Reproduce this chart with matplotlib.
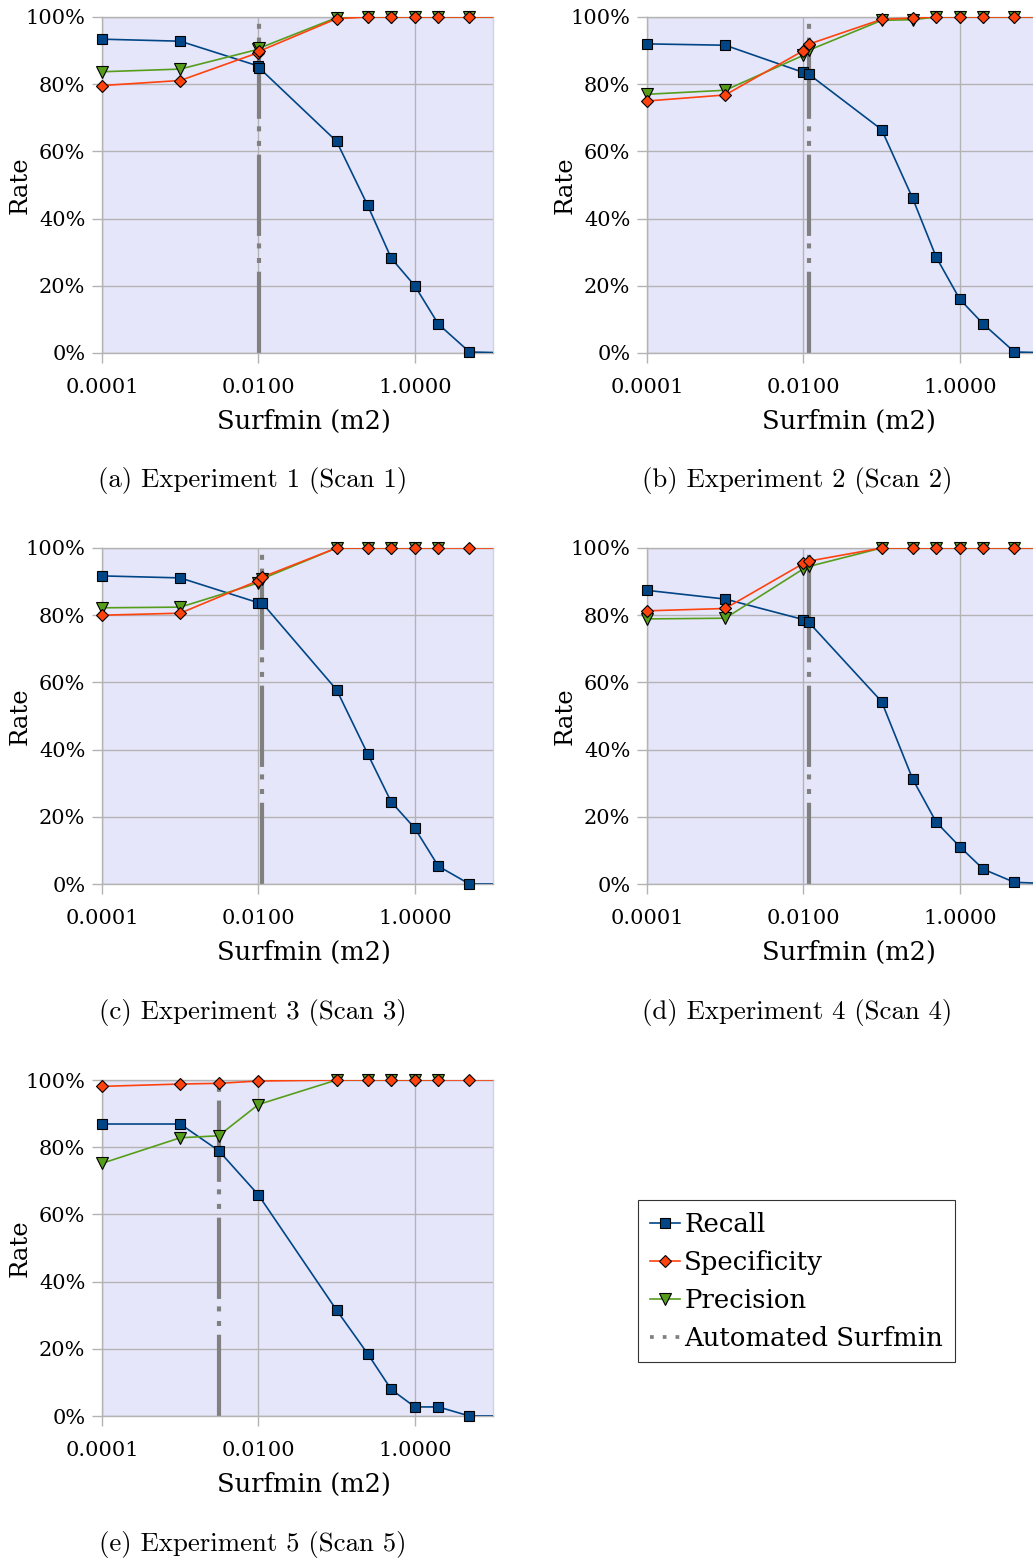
import numpy as np
import matplotlib
matplotlib.use("Agg")
import matplotlib.pyplot as plt
from matplotlib.lines import Line2D
from matplotlib.ticker import FixedLocator, FuncFormatter, NullLocator

nan = np.nan

# ---------------- data ----------------
x_a = [0.0001, 0.001, 0.01, 0.0102, 0.1, 0.25, 0.5, 1, 2, 5, 20]
recall_a = [93.4, 92.8, 85.4, 84.9, 63.0, 43.9, 28.2, 20.0, 8.6, 0.3, 0]
spec_a = [79.6, 81.1, 89.4, 89.8, 99.5, 100, 100, 100, 100, 100, 100]
prec_a = [83.7, 84.5, 90.4, 90.7, 99.8, 100, 100, 100, 100, 100, 100]
auto_a = 0.0101

x_b = [0.0001, 0.001, 0.01, 0.0117, 0.1, 0.25, 0.5, 1, 2, 5, 20]
recall_b = [92.0, 91.6, 83.5, 83.0, 66.5, 46.0, 28.5, 16.0, 8.6, 0.3, 0]
spec_b = [75.0, 76.8, 90.0, 91.9, 99.3, 99.7, 100, 100, 100, 100, 100]
prec_b = [77.0, 78.2, 88.6, 90.1, 99.0, 99.2, 100, 100, 100, 100, 100]
auto_b = 0.0117

x_c = [0.0001, 0.001, 0.01, 0.0111, 0.1, 0.25, 0.5, 1, 2, 5, 20]
recall_c = [91.7, 91.1, 83.7, 83.7, 57.8, 38.7, 24.4, 16.6, 5.3, 0, 0]
spec_c = [80.0, 80.6, 90.3, 91.3, 100, 100, 100, 100, 100, 100, 100]
prec_c = [82.2, 82.4, 89.6, 90.8, 100, 100, 100, 100, 100, nan, nan]
auto_c = 0.0111

x_d = [0.0001, 0.001, 0.01, 0.0117, 0.1, 0.25, 0.5, 1, 2, 5, 20]
recall_d = [87.4, 84.8, 78.7, 77.9, 54.3, 31.2, 18.4, 11.1, 4.4, 0.5, 0]
spec_d = [81.3, 82.0, 95.4, 96.1, 100, 100, 100, 100, 100, 100, 100]
prec_d = [78.9, 79.1, 93.8, 94.5, 100, 100, 100, 100, 100, 100, 100]
auto_d = 0.0117

x_e = [0.0001, 0.001, 0.0031, 0.01, 0.1, 0.25, 0.5, 1, 2, 5, 20]
recall_e = [86.9, 86.9, 79.0, 65.8, 31.5, 18.5, 7.9, 2.7, 2.7, 0, 0]
spec_e = [98.1, 98.8, 99.0, 99.7, 100, 100, 100, 100, 100, 100, 100]
prec_e = [75.2, 82.8, 83.4, 92.7, 100, 100, 100, 100, 100, nan, nan]
auto_e = 0.0031

panels = [
    ("(a) Experiment 1 (Scan 1)", x_a, recall_a, spec_a, prec_a, auto_a),
    ("(b) Experiment 2 (Scan 2)", x_b, recall_b, spec_b, prec_b, auto_b),
    ("(c) Experiment 3 (Scan 3)", x_c, recall_c, spec_c, prec_c, auto_c),
    ("(d) Experiment 4 (Scan 4)", x_d, recall_d, spec_d, prec_d, auto_d),
    ("(e) Experiment 5 (Scan 5)", x_e, recall_e, spec_e, prec_e, auto_e),
]

series_names = ["Recall", "Specificity", "Precision", "Automated Surfmin"]
xtick_vals = [0.0001, 0.01, 1.0]
ytick_vals = [0, 20, 40, 60, 80, 100]

# ---------------- style ----------------
C_RECALL = "#004586"
C_SPEC = "#ff420e"
C_PREC = "#579d1c"
C_AUTO = "#808080"
C_BG = "#e6e6fa"
C_GRID = "#b3b3b3"
FONT = "DejaVu Serif"

W, H = 1033, 1562
fig = plt.figure(figsize=(W / 100, H / 100), dpi=100)

lefts = [102, 647]
tops = [17, 548, 1080]
AW, AH = 391, 336
cap_y = [481, 1013, 1544]
cap_x = [253, 797]

XMIN, XMAX = 0.0001, 10


def px_axes(left, top):
    return [left / W, 1 - (top + AH) / H, AW / W, AH / H]


def draw_series(ax, x, y, color, marker, ms):
    x = np.asarray(x, float)
    y = np.asarray(y, float) / 100.0
    ax.plot(x, y, color=color, lw=1.2, zorder=3)
    inside = (x >= XMIN) & (x <= XMAX)
    ax.plot(x[inside], y[inside], ls="none", marker=marker, ms=ms,
            mfc=color, mec="black", mew=0.8, zorder=4, clip_on=False)


for i, (cap, x, rec, spec, prec, auto) in enumerate(panels):
    row, col = divmod(i, 2)
    ax = fig.add_axes(px_axes(lefts[col], tops[row]))
    ax.set_facecolor(C_BG)
    ax.set_xscale("log")
    ax.set_xlim(XMIN, XMAX)
    ax.set_ylim(0, 1)

    ax.xaxis.set_major_locator(FixedLocator(xtick_vals))
    ax.xaxis.set_minor_locator(NullLocator())
    ax.xaxis.set_major_formatter(FuncFormatter(lambda v, p: f"{v:.4f}"))
    ax.yaxis.set_major_locator(FixedLocator([v / 100 for v in ytick_vals]))
    ax.yaxis.set_major_formatter(FuncFormatter(lambda v, p: f"{v*100:.0f}%"))

    ax.grid(True, color=C_GRID, lw=1.0, zorder=0)
    ax.set_axisbelow(True)
    for s in ax.spines.values():
        s.set_color(C_GRID)
        s.set_linewidth(1.0)
    ax.spines["right"].set_color("#d0d0e8")
    ax.tick_params(axis="both", colors=C_GRID, length=7, width=1.0,
                   labelcolor="black", labelsize=15)
    ax.tick_params(axis="y", pad=5)
    ax.tick_params(axis="x", pad=11)
    for lab in ax.get_xticklabels() + ax.get_yticklabels():
        lab.set_fontfamily(FONT)

    ax.axvline(auto, ymin=0, ymax=0.985, color=C_AUTO, lw=3.0,
               ls=(0, (19.5, 2.1, 1.2, 2.3, 1.2, 1.8)), zorder=2)

    draw_series(ax, x, rec, C_RECALL, "s", 7.2)
    draw_series(ax, x, prec, C_PREC, "v", 8)
    draw_series(ax, x, spec, C_SPEC, "D", 6)

    ax.set_xlabel("Surfmin (m2)", fontsize=18.5, family=FONT, va="center")
    ax.xaxis.set_label_coords(0.517, -68 / AH)
    ax.set_ylabel("Rate", fontsize=17.5, family=FONT, va="center")
    ax.yaxis.set_label_coords(-82 / AW, 0.5)

    fig.text(cap_x[col] / W, 1 - cap_y[row] / H, cap, ha="center", va="center",
             fontsize=19.3, family="cmr10")

handles = [
    Line2D([], [], color=C_RECALL, lw=1.2, marker="s", ms=7.2, mfc=C_RECALL, mec="black", mew=0.8),
    Line2D([], [], color=C_SPEC, lw=1.2, marker="D", ms=6, mfc=C_SPEC, mec="black", mew=0.8),
    Line2D([], [], color=C_PREC, lw=1.2, marker="v", ms=8, mfc=C_PREC, mec="black", mew=0.8),
    Line2D([], [], color=C_AUTO, lw=2.7, ls=(0, (1.0, 2.4))),
]
leg = fig.legend(handles, series_names, loc="upper left",
                 bbox_to_anchor=(638 / W, 1 - 1200 / H), borderaxespad=0,
                 frameon=True, fancybox=False, edgecolor="black",
                 prop={"family": FONT, "size": 18.7}, handlelength=1.15,
                 handletextpad=0.18, labelspacing=0.5, borderpad=0.45)
leg.get_frame().set_linewidth(0.8)

fig.savefig("out.png", dpi=100)
